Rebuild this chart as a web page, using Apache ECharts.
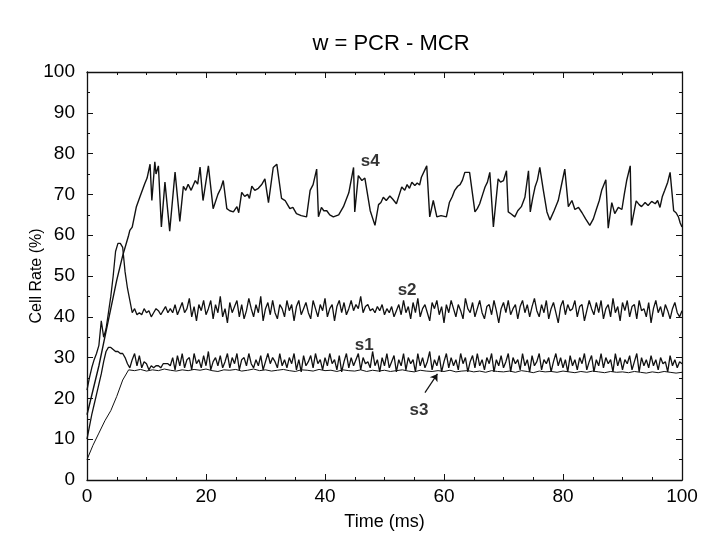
<!DOCTYPE html>
<html>
<head>
<meta charset="utf-8">
<script src="https://cdn.jsdelivr.net/npm/echarts@6/dist/echarts.min.js"></script>
<style>
html,body{margin:0;padding:0;background:#fff;}
#chart{width:703px;height:536px;}
</style>
</head>
<body>
<div id="chart"></div>
<script>
// ---- data ----
const xTicks = [0, 20, 40, 60, 80, 100];
const yTicks = [0, 10, 20, 30, 40, 50, 60, 70, 80, 90, 100];
const seriesNames = ['s1', 's2', 's3', 's4'];
const stepS1S2 = 0.4; // ms between samples of s1 and s2
const stepS3 = 1;     // ms between samples of s3

const s2Values = [
  22, 25, 27.5, 29.5, 31, 33, 39, 35, 37, 41, 45, 50, 56, 58, 58, 57, 51, 47, 44, 41, 42, 40.5,
  41, 40.5, 42, 41, 41.5, 40, 41, 42, 41.5, 40.5,
  41.5, 42.5, 41, 42, 41, 43, 40.5, 42, 43.5, 41,
  42, 44.5, 40, 42.5, 39, 43, 41.5, 44, 40.5, 42,
  44, 39.5, 43, 41, 45, 40, 42, 38.5, 43.5, 41,
  42.5, 44, 40, 43, 39.5, 41.5, 44.5, 42, 40, 43,
  41, 45, 39, 42, 43.5, 40.5, 44, 41, 39.5, 43,
  42, 40, 44, 41.5, 43, 39, 42.5, 44, 40.5, 42,
  43.5, 41, 39.5, 44, 42, 40, 43, 41.5, 44.5, 40,
  42, 43, 39, 42.5, 44, 41, 43.5, 40.5, 42, 44,
  41.5, 43, 42, 45, 41, 42.5, 43, 41.5, 42, 41,
  42.5, 41.5, 43, 40.5, 42, 41, 42.5, 40, 41.5, 43,
  40.5, 44, 41, 42.5, 39.5, 43.5, 41, 44.5, 40, 42,
  43, 41, 39, 43.5, 42, 44, 40.5, 42.5, 38.5, 43,
  41, 44, 42, 40, 43, 41.5, 39.5, 44.5, 42, 41,
  43.5, 40, 42, 44, 41, 39.5, 42.5, 43, 40.5, 44,
  41.5, 38.5, 42, 43.5, 41, 44, 40.5, 42, 43, 39.5,
  42.5, 44, 41, 43, 40, 42.5, 44.5, 41.5, 40, 43,
  41, 44, 39.5, 42, 43.5, 41, 38.5, 42.5, 44, 40.5,
  43, 41.5, 42, 44, 40, 42.5, 43, 39, 41.5, 44,
  42, 40.5, 43.5, 41, 44, 39.5, 42, 43, 40, 44.5,
  41, 42.5, 39, 43.5, 41.5, 44, 40, 42.5, 43, 39.5,
  44, 41.5, 42, 40, 43.5, 38.5, 42, 44, 41, 42.5,
  40, 43, 41.5, 39.5, 42, 43.5, 41, 40, 41.5
];

const s1Values = [
  10, 13, 16, 18.5, 21, 23.5, 26, 29, 31.5, 32.5, 32.5, 32, 31.5, 31.5, 31, 31, 30, 28.5, 27.5, 29.5,
  31, 28, 30.5, 27.5, 29, 28.5, 27, 28, 27.5, 28,
  28, 27.5, 28.5, 28.5, 28.5, 28, 30, 27, 30.5, 28,
  31, 27.5, 29.5, 30, 27, 31, 28.5, 29.5, 27.5, 30.5,
  28, 31.5, 27, 29, 30, 28, 30.5, 27.5, 29, 31,
  27.5, 30, 28.5, 31, 27, 29.5, 30, 28, 31, 28.5,
  27.5, 29.5, 28, 30.5, 27, 29, 31, 28.5, 30, 29,
  27.5, 31, 28, 29.5, 27.5, 30, 28.5, 31, 27, 29.5,
  26.5, 30.5, 28, 29, 30.5, 27.5, 31, 28.5, 29.5, 27,
  30, 28, 31, 28.5, 29.5, 27, 30.5, 26.5, 29, 31,
  27.5, 30, 28, 29.5, 31, 27, 30, 28.5, 29, 27.5,
  31.5, 28, 29.5, 26.5, 30, 28, 31, 27.5, 29, 30.5,
  26.5, 29.5, 28, 31, 27, 30, 28.5, 29.5, 26.5, 31,
  28, 30, 27.5, 29, 31.5, 27, 29.5, 28, 30.5, 26.5,
  29, 31, 27.5, 30, 28, 29.5, 27, 31, 28.5, 30,
  26.5, 29, 30.5, 27.5, 31, 28, 29.5, 27, 30, 28.5,
  31, 26.5, 29.5, 28, 30.5, 27.5, 29, 31, 26.5, 30,
  28.5, 29.5, 27, 31, 28, 29.5, 26.5, 30.5, 28, 29,
  31, 27, 29.5, 28.5, 30, 26.5, 29, 31, 28, 30,
  27.5, 29.5, 26.5, 30.5, 28, 29.5, 27, 30, 28.5, 31,
  27, 29, 30.5, 26.5, 29.5, 28, 31, 27.5, 30, 28.5,
  29.5, 26.5, 31, 28, 30, 27, 29.5, 28.5, 30.5, 27,
  29, 31, 26.5, 30, 28, 29.5, 27.5, 30.5, 28, 29.5,
  27, 30, 28.5, 29, 26.5, 30.5, 28, 29.5, 27.5, 29, 28.5
];

const s3Values = [
  5, 8.5, 11.5, 14.5, 17, 20.5, 24.5, 27, 26.8, 27.1,
  26.7, 27, 26.8, 27.2, 26.9, 26.7, 27, 26.8, 27.1, 26.9,
  27.2, 26.8, 26.6, 27, 26.9, 27.1, 26.7, 26.9, 27.2, 26.8,
  27, 26.7, 26.9, 27.1, 26.8, 26.6, 27, 26.9, 26.7, 27.1,
  26.8, 26.9, 26.6, 27, 26.8, 26.7, 27, 26.6, 26.9, 26.7,
  26.9, 26.6, 26.8, 27, 26.7, 26.5, 26.9, 26.7, 26.6, 26.8,
  26.6, 26.9, 26.5, 26.7, 26.8, 26.5, 26.7, 26.4, 26.8, 26.6,
  26.5, 26.7, 26.4, 26.8, 26.6, 26.3, 26.7, 26.5, 26.6, 26.4,
  26.7, 26.5, 26.3, 26.6, 26.4, 26.7, 26.5, 26.3, 26.6, 26.4,
  26.5, 26.3, 26.6, 26.4, 26.2, 26.5, 26.3, 26.6, 26.4, 26.2, 26.4
];

// s4 sampled at irregular times: [time (ms), cell rate (%)]
const s4Points = [
  [0,16],[1,22],[2,28],[3,35],[4,42],[5,49],[6,55],[7,60],[7.2,61.2],[7.6,62],
  [8.3,67],[8.9,69.4],[9.7,72.6],[10.1,74],[10.6,77.4],[10.9,68.5],[11.4,78],[11.6,75],[12,77],[12.5,62],
  [13.1,73],[13.9,61],[14.8,75.5],[15.6,63.4],[16.2,72],[16.6,71],[17,72.5],[17.5,71],[18.2,73.4],[18.6,72.5],
  [19,76.7],[19.5,68.5],[20.4,77],[21.2,66.5],[22,70],[22.5,71.5],[22.9,73.4],[23.5,66.5],[24,66],[24.6,65.7],
  [25.2,67],[25.5,65.5],[26,70.5],[26.5,69.5],[27,70],[27.3,69],[27.7,72],[28.2,71],[28.8,71.5],[29.4,72.5],
  [29.9,73.8],[30.5,68],[31.3,76.6],[31.9,77.4],[32.7,69],[33.3,68.5],[33.7,67.5],[34.1,66.5],[34.6,66.8],[35.2,65.3],
  [36,64.8],[36.9,64.5],[37.5,71],[38,72.4],[38.6,76.2],[38.9,64.5],[39.4,66.8],[39.8,66],[40.3,66],[40.8,65],
  [41.4,64.5],[42.3,65],[43.1,67],[44,70.4],[44.8,76.6],[45,65.7],[45.6,74.6],[46.2,73.4],[46.7,74],[47.6,66],
  [48.4,62.4],[49,67.5],[49.4,68],[49.8,69.3],[50.3,68.5],[50.9,69.6],[51.4,68.8],[52,67.7],[52.5,70],[52.9,71.8],
  [53.4,71],[53.8,72.4],[54.2,71.5],[54.6,73],[55.1,72.2],[55.5,72.8],[55.9,72.3],[56.2,74.2],[57.1,77],[57.6,64.5],
  [58.2,68.5],[58.8,64.5],[59.5,64.8],[60.4,64.5],[60.9,68],[61.4,69.5],[61.8,71],[62.3,72],[62.7,72.4],[63.1,73.5],
  [63.5,75.4],[64.3,75.4],[65.2,65.7],[65.6,66.5],[66,67.7],[66.5,70],[66.9,71.8],[67.3,73],[67.7,75.4],[68,75],
  [68.3,62],[69.1,73.8],[69.5,73],[70,73.4],[70.5,75.8],[70.8,65.7],[71.3,65.2],[71.9,64.5],[72.4,66],[73,67],
  [73.6,69.3],[74.2,75.8],[74.5,65.7],[74.9,69],[75.3,71.8],[75.7,73.5],[76.1,76.6],[76.7,71],[77.3,65.7],[77.8,63.7],
  [78.5,66],[79.2,68.5],[79.7,72],[80.3,76.2],[80.9,67],[81.5,68.5],[82,66.3],[82.6,66.8],[83.2,65.5],[83.8,64],
  [84.5,62.4],[85.1,64],[85.6,66.3],[86.1,68.5],[86.5,71],[87.2,73.6],[87.6,61.7],[88.2,68],[88.7,65.3],[89.3,66.8],
  [89.9,66.3],[90.3,70],[90.7,73.4],[91.3,77],[91.5,62.4],[92.3,68.4],[92.8,67.5],[93.2,67],[93.8,68],[94.3,67.3],
  [94.9,68.3],[95.5,67.7],[95.9,68.5],[96.3,66.8],[96.7,69.5],[97.1,71],[97.6,73],[98,75.4],[98.6,66],[99,65.5],
  [99.4,64.5],[99.7,63],[100,62]
];

// ---- build ----
function regular(values, step) {
  return values.map((v, i) => [Math.round(i * step * 100) / 100, v]);
}
const s1Data = regular(s1Values, stepS1S2);
const s2Data = regular(s2Values, stepS1S2);
const s3Data = regular(s3Values, stepS3);

const chart = echarts.init(document.getElementById('chart'), null, {renderer: 'canvas'});
const FONT = 'Liberation Sans, Arial, Helvetica, sans-serif';
const black = '#111';

function xAxisCfg(pos, showLabels) {
  return {
    type: 'value', position: pos, min: xTicks[0], max: xTicks[xTicks.length - 1],
    interval: xTicks[1] - xTicks[0],
    axisLine: {show: true, onZero: false, lineStyle: {color: black, width: 1.3}},
    axisTick: {show: true, inside: true, length: 6, lineStyle: {color: black}},
    minorTick: {show: true, splitNumber: 4, length: 3, lineStyle: {color: black}},
    splitLine: {show: false},
    axisLabel: {show: showLabels, color: '#000', fontSize: 19, fontFamily: FONT, margin: 7},
    name: showLabels ? 'Time (ms)' : '',
    nameLocation: 'middle', nameGap: 33,
    nameTextStyle: {color: '#000', fontSize: 18, fontFamily: FONT}
  };
}
function yAxisCfg(pos, showLabels) {
  return {
    type: 'value', position: pos, min: yTicks[0], max: yTicks[yTicks.length - 1],
    interval: yTicks[1] - yTicks[0],
    axisLine: {show: true, onZero: false, lineStyle: {color: black, width: 1.3}},
    axisTick: {show: true, inside: true, length: 6, lineStyle: {color: black}},
    minorTick: {show: true, splitNumber: 2, length: 3, lineStyle: {color: black}},
    splitLine: {show: false},
    axisLabel: {show: showLabels, color: '#000', fontSize: 19, fontFamily: FONT, margin: 12},
    name: showLabels ? 'Cell Rate (%)' : '',
    nameLocation: 'middle', nameGap: 42, nameMoveOverlap: false,
    nameTextStyle: {color: '#000', fontSize: 16, fontFamily: FONT}
  };
}

const labelStyle = {show: true, color: '#000', fontSize: 17, fontWeight: 'bold', fontFamily: FONT, position: 'inside'};
function labelSeries(name, pt) {
  return {
    type: 'scatter', xAxisIndex: 0, yAxisIndex: 0, symbolSize: 0, silent: true, z: 5,
    data: [pt],
    label: Object.assign({}, labelStyle, {formatter: name})
  };
}

const lineBase = {type: 'line', showSymbol: false, symbol: 'none', animation: false, xAxisIndex: 0, yAxisIndex: 0};

chart.setOption({
  animation: false,
  backgroundColor: '#fff',
  title: {
    text: 'w = PCR - MCR', left: 386, top: 28, textAlign: 'center',
    textStyle: {color: '#000', fontSize: 22, fontWeight: 'normal', fontFamily: FONT}
  },
  grid: {left: 87, right: 21, top: 72, bottom: 52, containLabel: false},
  xAxis: [xAxisCfg('bottom', true), xAxisCfg('top', false)],
  yAxis: [yAxisCfg('left', true), yAxisCfg('right', false)],
  series: [
    Object.assign({}, lineBase, {name: seriesNames[3], data: s4Points, lineStyle: {color: black, width: 1.4}}),
    Object.assign({}, lineBase, {name: seriesNames[1], data: s2Data, lineStyle: {color: black, width: 1.3}}),
    Object.assign({}, lineBase, {name: seriesNames[0], data: s1Data, lineStyle: {color: black, width: 1.3}}),
    Object.assign({}, lineBase, {
      name: seriesNames[2], data: s3Data, lineStyle: {color: black, width: 1},
      markLine: {
        silent: true, symbol: ['none', 'arrow'], symbolSize: 7,
        lineStyle: {color: black, width: 1.2, type: 'solid'}, label: {show: false},
        data: [[{coord: [56.8, 21.4]}, {coord: [58.9, 26.0]}]]
      }
    }),
    labelSeries('s4', [47.6, 78]),
    labelSeries('s2', [53.8, 46.6]),
    labelSeries('s1', [46.6, 33]),
    labelSeries('s3', [55.8, 17])
  ]
});
</script>
</body>
</html>
